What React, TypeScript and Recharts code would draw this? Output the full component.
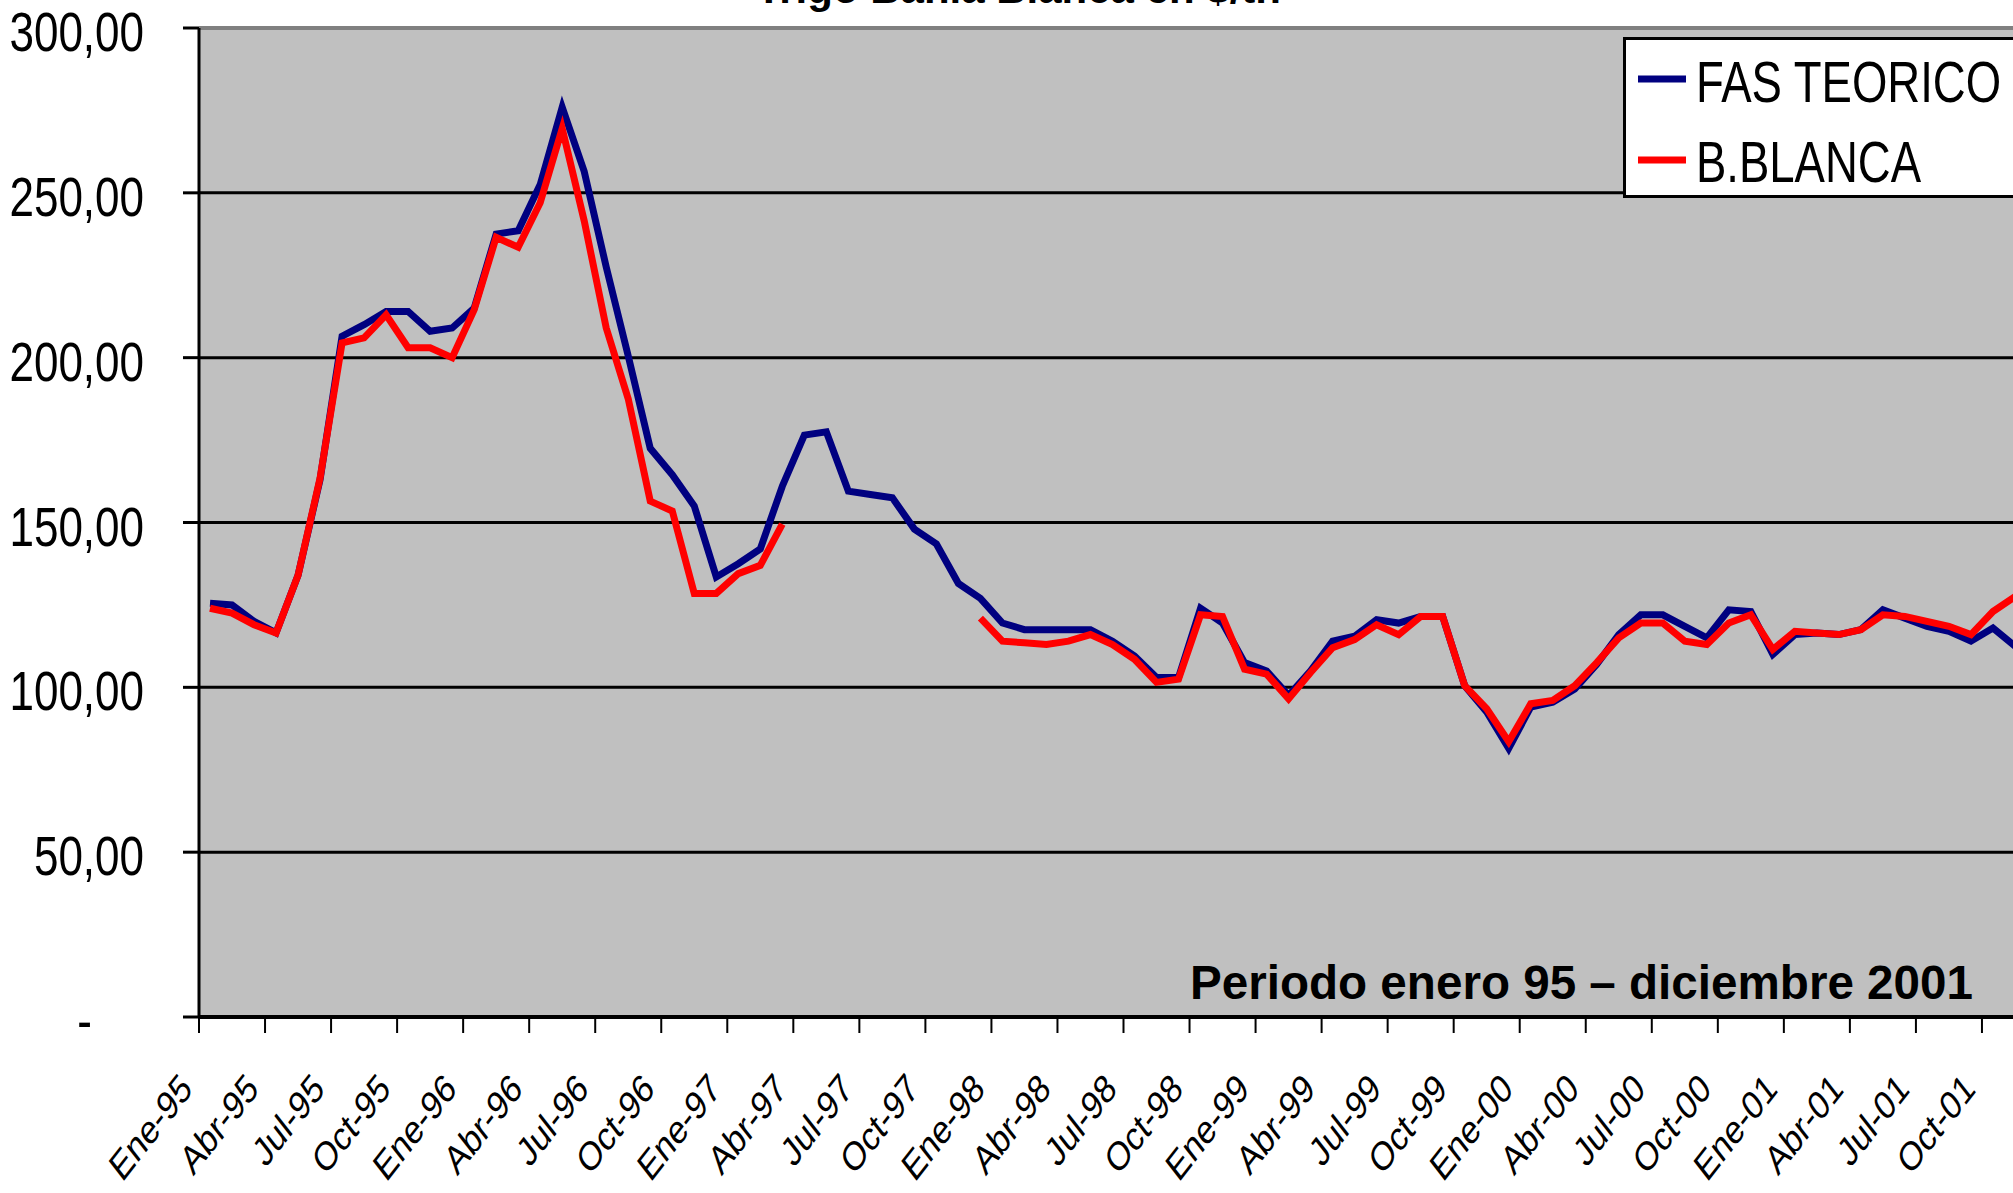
import { LineChart, Line, XAxis, YAxis, CartesianGrid, ReferenceLine, Legend } from "recharts"

const MONTHS = ["Ene", "Feb", "Mar", "Abr", "May", "Jun", "Jul", "Ago", "Sep", "Oct", "Nov", "Dic"]
const YEARS = ["95", "96", "97", "98", "99", "00", "01"]
const categories = YEARS.flatMap((yr) => MONTHS.map((m) => `${m}-${yr}`))

const SERIES_NAMES = ["FAS TEORICO", "B.BLANCA"]

// FAS teórico, $/tn, ene-95 .. dic-01
const fasTeorico = [
  125.5, 125, 120, 116.5, 134, 163, 206.5, 210, 214, 214, 208, 209,
  215, 237.5, 238.5, 252.5, 276, 256.5, 227.5, 200.5, 172.5, 164.5, 155, 133.5,
  137.5, 142, 161, 176.5, 177.5, 159.5, 158.5, 157.5, 148, 143.5, 131.5, 127,
  119.5, 117.5, 117.5, 117.5, 117.5, 114, 109.5, 103, 103, 124, 119.5, 107.5,
  105, 97.5, 105, 114, 115.5, 120.5, 119.5, 121.5, 121.5, 100.5, 92.5, 81.5,
  94, 95.5, 99.5, 107, 116, 122, 122, 118.5, 115, 123.5, 123, 110,
  116, 116.5, 116, 117.5, 123.5, 121, 118.5, 117, 114, 118, 112.5, 112,
]

// Bahía Blanca, $/tn (sin dato abr-97 .. nov-97)
const bBlanca = [
  124, 122.5, 119, 116.5, 134, 163.5, 204.5, 206, 213, 203, 203, 200,
  214.5, 236.5, 233.5, 247, 269.5, 241.5, 209, 187.5, 156.5, 153.5, 128.5, 128.5,
  134.5, 137, 149.5, null, null, null, null, null, null, null, null, 121,
  114, 113.5, 113, 114, 116, 113, 108.5, 101.5, 102.5, 122, 121.5, 105.5,
  104, 96.5, 104.5, 112, 114.5, 119, 116, 121.5, 121.5, 100.5, 93.5, 83.5,
  95, 96, 100.5, 107.5, 115, 119.5, 119.5, 114, 113, 119.5, 122, 111.5,
  117, 116.5, 116, 117.5, 122, 121.5, 120, 118.5, 116, 123, 127.5, 128,
]

const xTicks = categories.map((_, i) => i).filter((i) => i % 3 === 0)
const yTicks = [0, 50, 100, 150, 200, 250, 300]

const data = categories.map((mes, i) => ({
  x: i + 0.5,
  mes,
  fas: fasTeorico[i],
  bb: bBlanca[i],
}))

const FONT = "'Liberation Sans', Arial, sans-serif"
const STRETCH = 1.28

function YTick({ x, y, payload }: any) {
  const v = payload.value as number
  const label = v === 0 ? "-" : v.toFixed(2).replace(".", ",")
  return (
    <g transform={`translate(${v === 0 ? x - 52 : x},${y})`}>
      <text transform={`scale(1,${STRETCH})`} y={18} textAnchor="end" fontSize={44} fontFamily={FONT} fill="#000">
        {label}
      </text>
    </g>
  )
}

function XTick({ x, y, payload }: any) {
  return (
    <g transform={`translate(${x - 5},${y})`}>
      <text transform={`scale(1,${STRETCH}) rotate(-45)`} textAnchor="end" fontSize={31.5} fontFamily={FONT} fill="#000">
        {categories[payload.value]}
      </text>
    </g>
  )
}

function LegendBox({ payload }: any) {
  const items = [...(payload || [])].sort(
    (a: any, b: any) => SERIES_NAMES.indexOf(a.value) - SERIES_NAMES.indexOf(b.value)
  )
  return (
    <svg width={420} height={162} style={{ display: "block" }}>
      <rect x={1.5} y={1.5} width={440} height={158} fill="#fff" stroke="#000" strokeWidth={3} />
      {items.map((p: any, i: number) => (
        <g key={p.value}>
          <line x1={15} x2={63} y1={42 + i * 81} y2={42 + i * 81} stroke={p.color} strokeWidth={7} />
          <g transform={`translate(73,${65 + i * 80})`}>
            <text transform={`scale(1,${STRETCH})`} fontSize={45.5} fontFamily={FONT} fill="#000">
              {p.value}
            </text>
          </g>
        </g>
      ))}
    </svg>
  )
}

export default function App() {
  return (
    <div style={{ position: "absolute", left: 0, top: 0, width: 2013, height: 1193, overflow: "hidden", background: "#fff" }}>
      <LineChart width={2060} height={1193} data={data} margin={{ top: 28, right: 12, bottom: 0, left: 0 }}>
        <CartesianGrid vertical={false} fill="#C0C0C0" fillOpacity={1} stroke="#000" strokeWidth={3} />
        <ReferenceLine y={300} stroke="#808080" strokeWidth={4} />
        <XAxis
          dataKey="x"
          type="number"
          domain={[0, 84]}
          ticks={xTicks}
          interval={0}
          height={176}
          tickSize={16}
          tickMargin={58}
          axisLine={{ stroke: "#000", strokeWidth: 4 }}
          tickLine={{ stroke: "#000", strokeWidth: 2 }}
          tick={<XTick />}
        />
        <YAxis
          domain={[0, 300]}
          ticks={yTicks}
          interval={0}
          width={199}
          tickSize={16}
          tickMargin={39}
          axisLine={{ stroke: "#000", strokeWidth: 3 }}
          tickLine={{ stroke: "#000", strokeWidth: 3 }}
          tick={<YTick />}
        />
        <Legend
          layout="horizontal"
          align="center"
          verticalAlign="middle"
          content={<LegendBox />}
          wrapperStyle={{ left: 1623, top: 37, width: 420, height: 162 }}
        />
        <Line
          type="linear"
          dataKey="fas"
          name={SERIES_NAMES[0]}
          stroke="#000080"
          strokeWidth={7}
          dot={false}
          activeDot={false}
          isAnimationActive={false}
        />
        <Line
          type="linear"
          dataKey="bb"
          name={SERIES_NAMES[1]}
          stroke="#FF0000"
          strokeWidth={7}
          dot={false}
          activeDot={false}
          isAnimationActive={false}
        />
        <text x={1281} y={3} textAnchor="end" fontSize={42} fontWeight="bold" fontFamily={FONT} fill="#000">
          Trigo Bahía Blanca en $/tn
        </text>
        <text x={1973} y={999} textAnchor="end" fontSize={47.6} fontWeight="bold" fontFamily={FONT} fill="#000">
          Periodo enero 95 – diciembre 2001
        </text>
      </LineChart>
    </div>
  )
}
